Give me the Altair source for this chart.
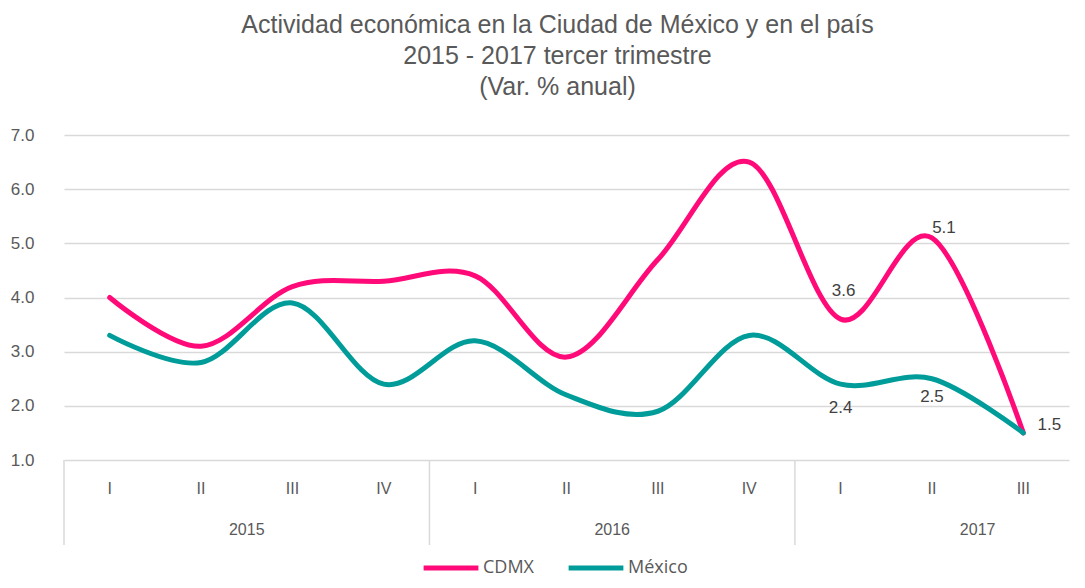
import altair as alt
import pandas as pd

# ---- data ----
quarters = ["I", "II", "III", "IV", "I", "II", "III", "IV", "I", "II", "III"]
years = ["2015"] * 4 + ["2016"] * 4 + ["2017"] * 3
cdmx = [4.0, 3.1, 4.2, 4.3, 4.4, 2.9, 4.7, 6.5, 3.6, 5.1, 1.5]
mexico = [3.3, 2.8, 3.9, 2.4, 3.2, 2.2, 1.9, 3.3, 2.4, 2.5, 1.5]
series_names = ["CDMX", "México"]
series_colors = ["#FF0A78", "#009C9A"]
year_list = ["2015", "2016", "2017"]
title_lines = ["Actividad económica en la Ciudad de México y en el país",
               "2015 - 2017 tercer trimestre",
               "(Var. % anual)"]

# ---- tables ----
idx = list(range(len(quarters)))
rows = []
for name, vals in zip(series_names, [cdmx, mexico]):
    for i, v in zip(idx, vals):
        rows.append({"idx": i, "series": name, "value": v, "quarter": quarters[i], "year": years[i]})
df = pd.DataFrame(rows)
qdf = pd.DataFrame({"idx": idx, "quarter": quarters, "year": years})

ystart = [years.index(y) for y in year_list]
ydf = pd.DataFrame({"year": year_list, "start": [s - 0.5 for s in ystart],
                    "mid": [s + 1.5 for s in ystart]})

W, H = 1005, 325
GREY = "#595959"
FONT = "Liberation Sans"
XDOM = [-0.5, len(quarters) - 0.5]

def xenc(field):
    return alt.X(field, scale=alt.Scale(domain=XDOM, nice=False, zero=False), axis=None)

lines = alt.Chart(df).mark_line(interpolate="cardinal", strokeWidth=5, strokeCap="round").encode(
    x=xenc("idx:Q"),
    y=alt.Y("value:Q", scale=alt.Scale(domain=[1, 7], nice=False, zero=False),
            axis=alt.Axis(values=[1, 2, 3, 4, 5, 6, 7], format=".1f", title=None, domain=False,
                          ticks=False, labelPadding=30, labelFontSize=17, labelColor=GREY,
                          labelFont=FONT, gridColor="#d9d9d9", gridWidth=1.5)),
    color=alt.Color("series:N", scale=alt.Scale(domain=series_names, range=series_colors),
                    legend=alt.Legend(orient="none", legendX=357, legendY=403, direction="horizontal",
                                      title=None, symbolType="stroke", symbolStrokeWidth=5,
                                      symbolSize=3000, labelFontSize=18, labelColor=GREY,
                                      labelFont="Open Sans", columnPadding=24, labelOffset=2)),
    detail="series:N",
)

qlabels = alt.Chart(qdf).mark_text(font=FONT, fontSize=16, color=GREY, baseline="middle").encode(
    x=xenc("idx:Q"), y=alt.value(354), text="quarter:N")

ylabels = alt.Chart(ydf).mark_text(font=FONT, fontSize=16, color=GREY, baseline="middle").encode(
    x=xenc("mid:Q"), y=alt.value(395), text="year:N")

seps = alt.Chart(ydf).mark_rule(color="#d9d9d9", strokeWidth=1.5).encode(
    x=xenc("start:Q"), y=alt.value(H), y2=alt.value(H + 85))

n = len(quarters)

def lab(series, pos, dx, dy):
    return alt.Chart(df).transform_filter(
        f"datum.series == '{series}' && datum.idx == {pos}"
    ).mark_text(font=FONT, fontSize=17, color="#404040", dx=dx, dy=dy).encode(
        x=xenc("idx:Q"), y=alt.Y("value:Q"), text=alt.Text("value:Q", format=".1f"))

labels = [
    lab("CDMX", n - 3, 3, -28),
    lab("CDMX", n - 2, 12, -10),
    lab("CDMX", n - 1, 26, -8),
    lab("México", n - 3, 0, 24),
    lab("México", n - 2, 0, 18),
]

chart = alt.layer(lines, qlabels, ylabels, seps, *labels).properties(
    width=W, height=H,
    autosize=alt.AutoSizeParams(type="none"),
    padding={"left": 56, "top": 127, "right": 8, "bottom": 120},
    title=alt.TitleParams(text=title_lines, anchor="middle", frame="group", fontSize=25, font=FONT,
                          color=GREY, fontWeight="normal", lineHeight=31, offset=26, dx=-9),
).configure_view(stroke=None)

chart.save("out.html", embed_options={"renderer": "svg", "actions": False})
